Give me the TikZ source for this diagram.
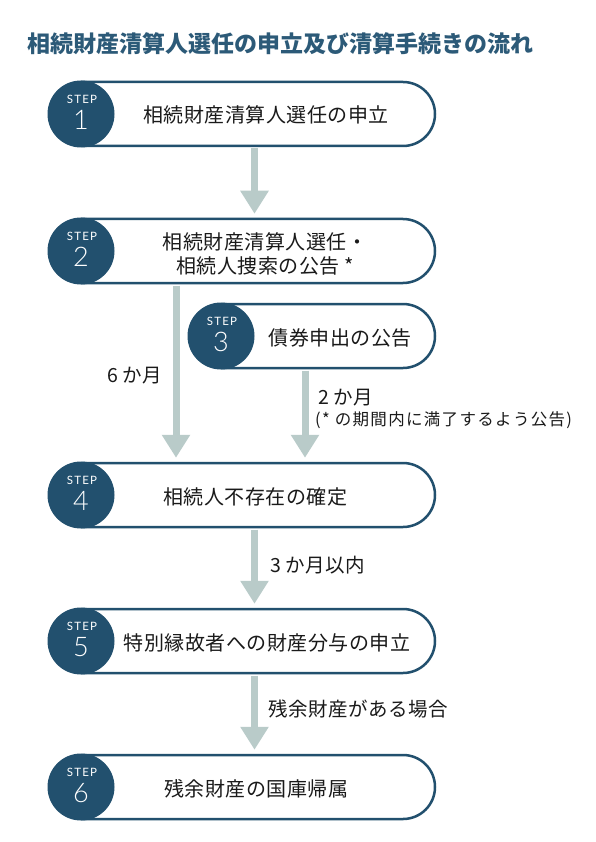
\documentclass[tikz,border=0pt]{standalone}
\usepackage{fontspec}
\usetikzlibrary{shapes.misc,arrows.meta}
\newfontfamily\jp{Noto Sans CJK JP}
\newfontfamily\steplblfont{Lato}
\IfFontExistsTF{Lato Light}{\newfontfamily\stepfont{Lato Light}}{\newfontfamily\stepfont{Lato}}
\definecolor{navy}{HTML}{22506E}
\definecolor{arrowc}{HTML}{B9CBC9}
\definecolor{titlec}{HTML}{2C5A78}
\definecolor{txt}{HTML}{1A1A1A}
\tikzset{
  pill/.style={rounded rectangle, rounded rectangle left arc=none, draw=navy, line width=2.5pt,
    fill=white, minimum height=64pt, inner sep=0pt, anchor=west},
  stepcirc/.style={circle, fill=navy, minimum size=67pt, inner sep=0pt},
  steplbl/.style={text=white, inner sep=0pt, font=\steplblfont\addfontfeature{LetterSpace=10}\fontsize{11.5}{13}\selectfont},
  stepnum/.style={text=white, inner sep=0pt, font=\stepfont\fontsize{27}{29}\selectfont},
  steptext/.style={text=txt, inner sep=0pt, align=center, font=\jp\addfontfeature{LetterSpace=2.5}\fontsize{20}{24.5}\selectfont},
  lbl/.style={text=txt, inner sep=0pt, anchor=west, font=\jp\addfontfeature{LetterSpace=2.5}\fontsize{19.5}{24}\selectfont},
  note/.style={text=txt, inner sep=0pt, anchor=west, font=\jp\addfontfeature{LetterSpace=8}\fontsize{16.5}{20}\selectfont},
  flow/.style={draw=arrowc, line width=7pt, -{Triangle[width=27pt,length=23pt]}, shorten <=1.25pt, shorten >=4pt}
}
\begin{document}
\begin{tikzpicture}[x=1pt,y=-1pt]
\fill[white] (0,0) rectangle (595,842);
\useasboundingbox (0,0) rectangle (595,842);
\node[text=titlec, inner sep=0pt, anchor=west, font=\jp\bfseries\fontsize{23}{26}\selectfont] (title) at (27,44) {相続財産清算人選任の申立及び清算手続きの流れ};
% step 1
\node[pill, minimum width=352.75pt] (p1) at (81,114) {};
\node[stepcirc] (c1) at (81,114) {};
\node[steplbl] (s1) at (82,99) {STEP};
\node[stepnum] (n1) at (81,120) {1};
\node[steptext] (t1) at (266,115) {相続財産清算人選任の申立};
% step 2
\node[pill, minimum width=352.75pt] (p2) at (81,251) {};
\node[stepcirc] (c2) at (81,251) {};
\node[steplbl] (s2) at (82,236) {STEP};
\node[stepnum] (n2) at (81,257) {2};
\node[steptext] (t2) at (265,254) {相続財産清算人選任・\\相続人捜索の公告 *};
% step 3
\node[pill, minimum width=212.75pt] (p3) at (221,336) {};
\node[stepcirc] (c3) at (221,336) {};
\node[steplbl] (s3) at (222,321) {STEP};
\node[stepnum] (n3) at (221,342) {3};
\node[steptext] (t3) at (340,338) {債券申出の公告};
% step 4
\node[pill, minimum width=352.75pt] (p4) at (81,495) {};
\node[stepcirc] (c4) at (81,495) {};
\node[steplbl] (s4) at (82,480) {STEP};
\node[stepnum] (n4) at (81,501) {4};
\node[steptext] (t4) at (255,497) {相続人不存在の確定};
% step 5
\node[pill, minimum width=352.75pt] (p5) at (81,641) {};
\node[stepcirc] (c5) at (81,641) {};
\node[steplbl] (s5) at (82,626) {STEP};
\node[stepnum] (n5) at (81,647) {5};
\node[steptext] (t5) at (267,643) {特別縁故者への財産分与の申立};
% step 6
\node[pill, minimum width=352.75pt] (p6) at (81,787) {};
\node[stepcirc] (c6) at (81,787) {};
\node[steplbl] (s6) at (82,772) {STEP};
\node[stepnum] (n6) at (81,793) {6};
\node[steptext] (t6) at (256,789) {残余財産の国庫帰属};
% arrows
\draw[flow] (254.5,0 |- p1.south) -- (254.5,0 |- p2.north);
\draw[flow] (176,0 |- p2.south) -- (176,0 |- p4.north);
\draw[flow] (305,0 |- p3.south) -- (305,0 |- p4.north);
\draw[flow] (254.5,0 |- p4.south) -- (254.5,0 |- p5.north);
\draw[flow] (254.5,0 |- p5.south) -- (254.5,0 |- p6.north);
% labels
\node[lbl] (l6m) at (107,376) {6 か月};
\node[lbl] (l2m) at (318,398) {2 か月};
\node[note] (lnote) at (315,420) {(* の期間内に満了するよう公告)};
\node[lbl] (l3m) at (270,565) {3 か月以内};
\node[lbl] (lrem) at (268,709) {残余財産がある場合};
\end{tikzpicture}
\end{document}
